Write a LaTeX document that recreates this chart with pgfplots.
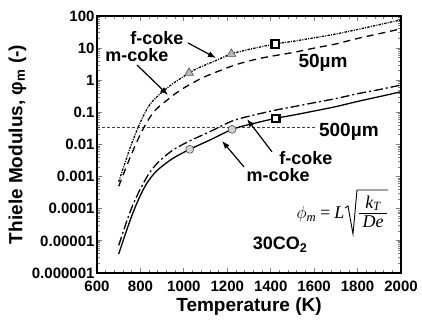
\documentclass[border=0pt]{standalone}
\usepackage{pgfplots}
\pgfplotsset{compat=1.18}
\usepackage{fontspec}
\setmainfont{Liberation Sans}
\newfontfamily\serif{Liberation Serif}
\usetikzlibrary{arrows.meta}

% Thiele modulus curves, 30 % CO2
% 50 um particles
\pgfplotstableread{
T phi
700 6.92e-4
725 2.24e-3
750 7.08e-3
770 0.0162
790 0.0347
810 0.0692
830 0.126
850 0.200
875 0.302
900 0.427
950 0.794
1000 1.32
1024 1.70
1072 2.51
1150 4.17
1219 6.61
1300 9.12
1421 13.5
1500 16.2
1600 20.9
1700 27.5
1800 38.0
1900 53.7
2000 75.9
}\fcokeA
\pgfplotstableread{
T phi
700 5.01e-4
730 1.66e-3
760 5.25e-3
790 0.0151
820 0.0380
845 0.0724
870 0.120
900 0.182
930 0.263
960 0.380
1000 0.575
1050 0.891
1100 1.32
1225 2.82
1300 3.98
1380 5.25
1500 7.24
1600 10.0
1700 13.5
1800 20.0
1900 28.2
2000 39.8
}\mcokeA
% 500 um particles
\pgfplotstableread{
T phi
700 7.24e-6
720 1.86e-5
740 4.68e-5
767 1.41e-4
800 4.17e-4
835 1.12e-3
860 1.91e-3
890 3.16e-3
950 6.76e-3
1027 0.0129
1120 0.0251
1222 0.0537
1300 0.0759
1420 0.117
1500 0.148
1600 0.200
1700 0.269
1800 0.380
1900 0.513
2000 0.708
}\fcokeB
\pgfplotstableread{
T phi
700 3.89e-6
735 2.00e-5
767 7.94e-5
800 2.63e-4
830 6.31e-4
860 1.175e-3
890 1.86e-3
950 3.72e-3
1027 7.08e-3
1120 0.0138
1222 0.0295
1300 0.0417
1420 0.0646
1500 0.0813
1600 0.110
1700 0.151
1800 0.219
1900 0.309
2000 0.437
}\mcokeB

\begin{document}
\begin{tikzpicture}
\path[use as bounding box] (0,0) rectangle (422pt,320pt);
\begin{axis}[
  at={(97pt,47pt)}, anchor=south west,
  scale only axis, width=304pt, height=257pt,
  xmin=600, xmax=2000,
  ymode=log, ymin=1e-6, ymax=100,
  xtick={600,800,...,2000},
  xticklabels={600,800,1000,1200,1400,1600,1800,2000},
  minor x tick num=4,
  ytick={1e-6,1e-5,1e-4,1e-3,1e-2,1e-1,1,10,100},
  yticklabels={0.000001,0.00001,0.0001,0.001,0.01,0.1,1,10,100},
  axis line style={line width=1.6pt},
  major tick style={line width=0.9pt},
  minor tick style={line width=0.7pt},
  major tick length=5pt, minor tick length=3pt,
  tick label style={font=\fontsize{15}{17}\selectfont\bfseries},
  yticklabel style={xshift=1pt},
  xticklabel style={yshift=-4pt},
  xlabel={Temperature (K)},
  ylabel={Thiele Modulus, φ\textsubscript{m} (-)},
  label style={font=\fontsize{19}{22}\selectfont\bfseries},
  xlabel style={at={(axis description cs:0.5,-0.13)}, anchor=center},
  ylabel style={at={(axis description cs:-0.262,0.5)}, anchor=center},
  clip=false,
]
% reference level
\addplot[line width=0.6pt, dash pattern=on 3pt off 2pt, black!75] coordinates {(600,0.035) (1609,0.035)};

\addplot[line width=1.3pt, smooth, dash pattern=on 2.4pt off 1.2pt on 1pt off 1.2pt] table[x=T,y=phi] {\fcokeA};
\addplot[line width=1.3pt, smooth, dash pattern=on 7pt off 5pt] table[x=T,y=phi] {\mcokeA};
\addplot[line width=1.3pt, smooth, dash pattern=on 9pt off 3pt on 2pt off 3pt] table[x=T,y=phi] {\fcokeB};
\addplot[line width=1.3pt, smooth] table[x=T,y=phi] {\mcokeB};

% measured points
\addplot[only marks, mark=triangle*, mark size=5pt, mark options={fill=gray!55, draw=black!70, line width=0.6pt}]
  coordinates {(1024,1.70) (1219,6.61)};
\addplot[only marks, mark=*, mark size=4pt, mark options={fill=gray!35, draw=black!70, line width=0.6pt}]
  coordinates {(1027,7.08e-3) (1222,0.0295)};
\addplot[only marks, mark=square*, mark size=3.8pt, mark options={fill=white, draw=black, line width=2.3pt}]
  coordinates {(1421,13.5) (1423,0.0646)};

% annotations
\begin{scope}[font=\fontsize{18}{20}\selectfont\bfseries]
\node at (axis cs:876,20.6) {f-coke};
\node at (axis cs:784,6.1) {m-coke};
\node at (axis cs:1641,3.44) {\fontsize{19}{22}\selectfont 50µm};
\node at (axis cs:1760,0.0245) {\fontsize{19}{22}\selectfont 500µm};
\node at (axis cs:1562,0.0038) {f-coke};
\node at (axis cs:1434,0.00112) {m-coke};
\node at (axis cs:1443,7.4e-6) {30CO\textsubscript{2}};
\end{scope}

\begin{scope}[line width=1.2pt, -{Latex[length=8pt,width=6pt]}]
\draw (axis cs:1019,14.5) -- (axis cs:1148,4.93);
\draw (axis cs:784,2.99) -- (axis cs:927,0.348);
\draw (axis cs:1406,0.0059) -- (axis cs:1291,0.0617);
\draw (axis cs:1277,0.002) -- (axis cs:1176,0.0129);
\end{scope}
\end{axis}

% definition of the Thiele modulus
\begin{scope}[font=\fontsize{18}{20}\selectfont\serif\itshape, inner sep=0.5pt]
\node[anchor=base east] at (345pt,101pt) {$\phi$\textsubscript{m}\,=\,L};
\draw[line width=0.9pt, line join=miter] (345pt,112pt) -- (348pt,114pt) -- (353pt,86pt) -- (357pt,130pt) -- (388pt,130pt);
\draw[line width=0.7pt] (359pt,107pt) -- (387pt,107pt);
\node[anchor=south] at (373pt,108.5pt) {k\textsubscript{T}};
\node[anchor=north] at (373pt,105pt) {De};
\end{scope}
\end{tikzpicture}
\end{document}
